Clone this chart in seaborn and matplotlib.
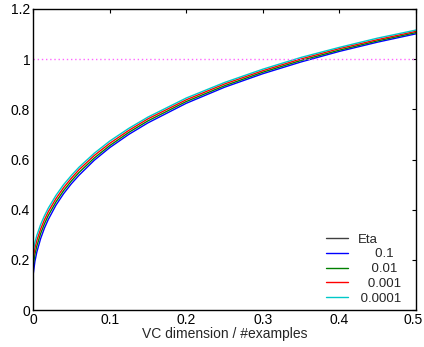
import matplotlib
matplotlib.use('Agg')
import matplotlib.pyplot as plt
import matplotlib.transforms as mtransforms
import seaborn as sns
import pandas as pd
from matplotlib.lines import Line2D

# values (x = VC dimension / #examples)
x = [0, 0.0025, 0.005, 0.01, 0.015, 0.02, 0.03, 0.04, 0.05, 0.06, 0.08, 0.1,
     0.125, 0.15, 0.2, 0.25, 0.3, 0.35, 0.4, 0.45, 0.5]
eta_01 = [0.136, 0.194, 0.231, 0.285, 0.327, 0.361, 0.418, 0.464, 0.503, 0.537,
          0.597, 0.647, 0.700, 0.746, 0.824, 0.888, 0.942, 0.989, 1.031, 1.068, 1.101]
eta_001 = [0.173, 0.222, 0.255, 0.305, 0.344, 0.377, 0.431, 0.476, 0.514, 0.548,
           0.606, 0.655, 0.708, 0.754, 0.831, 0.894, 0.948, 0.995, 1.036, 1.073, 1.106]
eta_0001 = [0.204, 0.246, 0.277, 0.323, 0.360, 0.392, 0.444, 0.488, 0.525, 0.559,
            0.616, 0.664, 0.716, 0.762, 0.838, 0.901, 0.954, 1.001, 1.042, 1.078, 1.111]
eta_00001 = [0.230, 0.269, 0.297, 0.341, 0.376, 0.406, 0.457, 0.500, 0.536, 0.569,
             0.625, 0.673, 0.724, 0.769, 0.845, 0.907, 0.960, 1.007, 1.047, 1.084, 1.116]
labels = ['0.1', '0.01', '0.001', '0.0001']
colors = ['#0000ff', '#008000', '#ff0000', '#00c8c8']

rows = []
for lab, ys in zip(labels, [eta_01, eta_001, eta_0001, eta_00001]):
    for xi, yi in zip(x, ys):
        rows.append({'x': xi, 'y': yi, 'eta': lab})
df = pd.DataFrame(rows)

sns.set_style('white')
plt.rcParams['font.family'] = ['Liberation Sans', 'DejaVu Sans']
plt.rcParams['font.size'] = 10

fig = plt.figure(figsize=(4.24, 3.47), dpi=100)
ax = fig.add_axes([33 / 424, 37 / 347, 383 / 424, 301 / 347])

sns.lineplot(data=df, x='x', y='y', hue='eta', palette=dict(zip(labels, colors)),
             hue_order=labels, linewidth=1.0, ax=ax, legend=False)
ax.plot([0, 0.5], [1, 1], color='#ff66ff', linestyle=(0, (1, 2)), linewidth=1.0)

ax.set_xlim(0, 0.5)
ax.set_ylim(0, 1.2)
ax.set_xticks([0, 0.1, 0.2, 0.3, 0.4, 0.5])
ax.set_xticklabels(['0', '0.1', '0.2', '0.3', '0.4', '0.5'])
ax.set_yticks([0, 0.2, 0.4, 0.6, 0.8, 1.0, 1.2])
ax.set_yticklabels(['0', '0.2', '0.4', '0.6', '0.8', '1', '1.2'])
ax.tick_params(direction='in', length=3, width=0.8, top=True, right=True,
               labelsize=10, pad=2, colors='black')
for s in ax.spines.values():
    s.set_visible(True)
    s.set_color('black')
    s.set_linewidth(1.0)
ax.set_xlabel('VC dimension / #examples', fontsize=10, labelpad=0)
ax.set_ylabel('')

# keep the last x tick label inside the image
last = ax.get_xticklabels()[-1]
last.set_transform(last.get_transform() +
                   mtransforms.ScaledTranslation(-3 / 100, 0, fig.dpi_scale_trans))

handles = [Line2D([], [], color='#404040', lw=1.0)]
handles += [Line2D([], [], color=c, lw=1.0) for c in colors]
names = ['Eta', '     0.1', '    0.01', '   0.001', ' 0.0001']
ax.legend(handles, names, loc='lower right', bbox_to_anchor=(0.9765, 0.0),
          frameon=False, fontsize=9.5, handlelength=1.67, handletextpad=0.68,
          labelspacing=0.19, borderaxespad=0.0)

fig.savefig('out.png', dpi=100)
